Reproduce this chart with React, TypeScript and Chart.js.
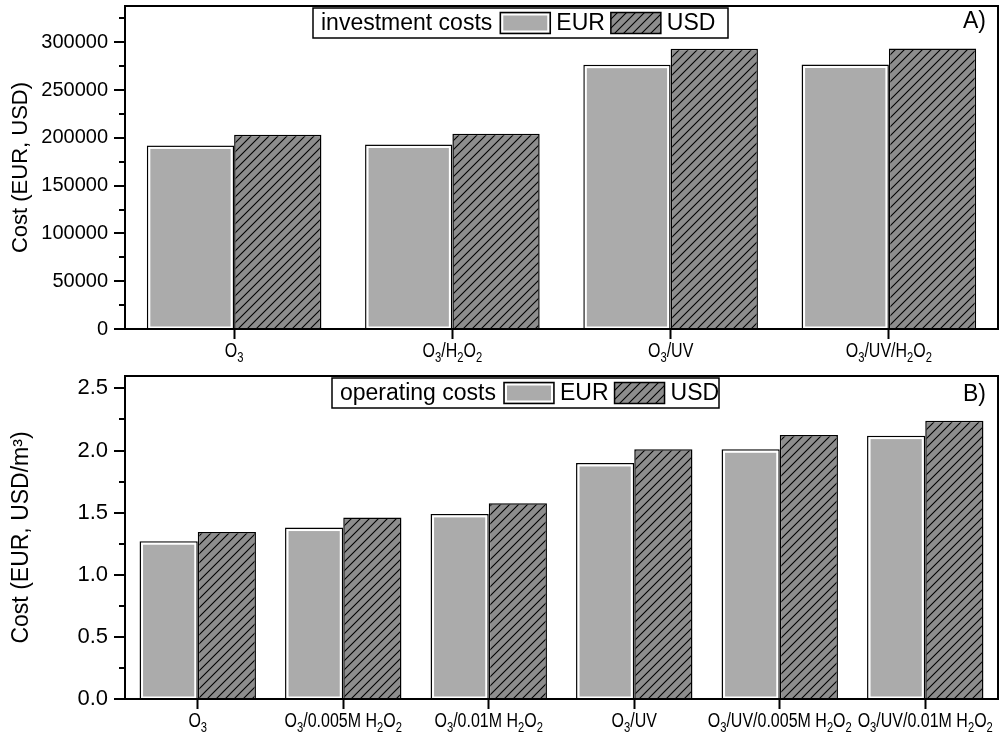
import React, { useEffect, useRef } from 'react';
import { Chart, registerables } from 'chart.js';

Chart.register(...registerables);

// ---------- data ----------
const investmentCategories = ['O₃', 'O₃/H₂O₂', 'O₃/UV', 'O₃/UV/H₂O₂'];
const investmentEUR = [192100, 193100, 276600, 276800];
const investmentUSD = [203300, 204400, 293300, 293400];
const investmentTicks = [
  0, 25000, 50000, 75000, 100000, 125000, 150000, 175000, 200000, 225000, 250000, 275000, 300000, 325000,
];

const operatingCategories = [
  'O₃',
  'O₃/0.005M H₂O₂',
  'O₃/0.01M H₂O₂',
  'O₃/UV',
  'O₃/UV/0.005M H₂O₂',
  'O₃/UV/0.01M H₂O₂',
];
const operatingEUR = [1.27, 1.38, 1.49, 1.9, 2.01, 2.12];
const operatingUSD = [1.345, 1.46, 1.575, 2.01, 2.125, 2.24];
const operatingTicks = [0, 0.25, 0.5, 0.75, 1.0, 1.25, 1.5, 1.75, 2.0, 2.25, 2.5];

const seriesLabels = ['EUR', 'USD'];
const legendTitles = ['investment costs', 'operating costs'];
const panelLabels = ['A)', 'B)'];
const yTitles = ['Cost (EUR, USD)', 'Cost (EUR, USD/m³)'];

// ---------- styles ----------
const FONT = '"Liberation Sans", Arial, sans-serif';
const EUR_FILL = '#ababab';
const USD_FILL = '#8d8d8d';
const SUBS = '₀₁₂₃₄₅₆₇₈₉';

function makeHatch(): CanvasPattern | string {
  const c = document.createElement('canvas');
  const s = 9;
  c.width = s;
  c.height = s;
  const g = c.getContext('2d');
  if (!g) return USD_FILL;
  g.fillStyle = USD_FILL;
  g.fillRect(0, 0, s, s);
  g.strokeStyle = '#000';
  g.lineWidth = 1.1;
  g.beginPath();
  g.moveTo(-1, s + 1);
  g.lineTo(s + 1, -1);
  g.moveTo(-2, 2);
  g.lineTo(2, -2);
  g.moveTo(s - 2, s + 2);
  g.lineTo(s + 2, s - 2);
  g.stroke();
  const p = g.createPattern(c, 'repeat');
  return p || USD_FILL;
}

// draws a label with real subscripts, horizontally condensed like a narrow face
function drawRich(
  ctx: CanvasRenderingContext2D,
  text: string,
  cx: number,
  baseline: number,
  size: number,
  subSize: number,
  drop: number,
  squeeze: number,
) {
  const segs: { t: string; sub: boolean }[] = [];
  for (const ch of Array.from(text)) {
    const k = SUBS.indexOf(ch);
    const sub = k >= 0;
    const t = sub ? String(k) : ch;
    const last = segs[segs.length - 1];
    if (last && last.sub === sub) last.t += t;
    else segs.push({ t, sub });
  }
  let total = 0;
  const widths = segs.map((s) => {
    ctx.font = `${s.sub ? subSize : size}px ${FONT}`;
    const w = ctx.measureText(s.t).width;
    total += w;
    return w;
  });
  ctx.save();
  ctx.translate(cx - (total * squeeze) / 2, baseline);
  ctx.scale(squeeze, 1);
  let x = 0;
  segs.forEach((s, i) => {
    ctx.font = `${s.sub ? subSize : size}px ${FONT}`;
    ctx.fillText(s.t, x, s.sub ? drop : 0);
    x += widths[i];
  });
  ctx.restore();
}

const decorPlugin = {
  id: 'decor',
  afterDraw(chart: any, _args: any, opts: any) {
    const ctx: CanvasRenderingContext2D = chart.ctx;
    const { left, top, right, bottom } = chart.chartArea;
    ctx.save();

    // white inner edge of EUR bars
    const meta = chart.getDatasetMeta(0);
    ctx.strokeStyle = '#ffffff';
    ctx.lineWidth = 2;
    meta.data.forEach((el: any) => {
      const p = el.getProps(['x', 'y', 'base', 'width'], true);
      const l = p.x - p.width / 2;
      const t = Math.min(p.y, p.base);
      const b = Math.max(p.y, p.base);
      ctx.strokeRect(l + 2.5, t + 2.5, p.width - 5, b - t - 4);
    });

    // frame
    ctx.strokeStyle = '#000';
    ctx.lineWidth = 2;
    ctx.strokeRect(left, top, right - left, bottom - top);

    // y ticks (major + minor)
    const ys = chart.scales.y;
    ys.ticks.forEach((t: any) => {
      const py = Math.round(ys.getPixelForValue(t.value));
      const r = t.value / opts.majorStep;
      const major = Math.abs(r - Math.round(r)) < 1e-6;
      ctx.beginPath();
      ctx.moveTo(left - (major ? 11 : 6), py);
      ctx.lineTo(left, py);
      ctx.stroke();
    });

    // x category labels with subscripts
    const xs = chart.scales.x;
    ctx.fillStyle = '#000';
    ctx.textAlign = 'left';
    ctx.textBaseline = 'alphabetic';
    (chart.data.labels as string[]).forEach((lab, i) => {
      const px = xs.getPixelForTick(i);
      drawRich(ctx, lab, px, bottom + opts.labelBaseline, 20, 14, 5, 0.8);
    });

    // legend
    const lb = opts.legendBox;
    ctx.fillStyle = '#fff';
    ctx.fillRect(lb.x, lb.y, lb.w, lb.h);
    ctx.strokeStyle = '#000';
    ctx.lineWidth = 1.5;
    ctx.strokeRect(lb.x, lb.y, lb.w, lb.h);
    ctx.font = `23px ${FONT}`;
    ctx.fillStyle = '#000';
    ctx.textBaseline = 'middle';
    ctx.textAlign = 'left';
    const cy = lb.y + lb.h / 2 + 1;
    let x = lb.x + 8;
    ctx.fillText(opts.legendTitle, x, cy);
    x += ctx.measureText(opts.legendTitle).width + 8;
    chart.data.datasets.forEach((ds: any, i: number) => {
      const sw = 50;
      const sh = 21;
      const sy = lb.y + (lb.h - sh) / 2;
      ctx.fillStyle = ds.backgroundColor;
      ctx.fillRect(x, sy, sw, sh);
      if (i === 0) {
        ctx.strokeStyle = '#fff';
        ctx.lineWidth = 2;
        ctx.strokeRect(x + 2, sy + 2, sw - 4, sh - 4);
      }
      ctx.strokeStyle = '#000';
      ctx.lineWidth = 1.5;
      ctx.strokeRect(x, sy, sw, sh);
      x += sw + 6;
      ctx.fillStyle = '#000';
      ctx.fillText(ds.label, x, cy);
      x += ctx.measureText(ds.label).width + 6;
    });

    // panel label
    ctx.font = `23px ${FONT}`;
    ctx.textAlign = 'right';
    ctx.fillText(opts.panelLabel, opts.panelPos.x, opts.panelPos.y);
    ctx.restore();
  },
};

function buildConfig(
  labels: string[],
  eur: number[],
  usd: number[],
  yMax: number,
  tickValues: number[],
  majorStep: number,
  decimals: number,
  yTitle: string,
  titleSize: number,
  tickSize: number,
  padTop: number,
  xHeight: number,
  decor: any,
): any {
  return {
    type: 'bar',
    data: {
      labels,
      datasets: [
        {
          label: seriesLabels[0],
          data: eur,
          backgroundColor: EUR_FILL,
          borderColor: '#000',
          borderWidth: 1.5,
          categoryPercentage: 0.8,
          barPercentage: 1.0,
        },
        {
          label: seriesLabels[1],
          data: usd,
          backgroundColor: makeHatch(),
          borderColor: '#000',
          borderWidth: 1.5,
          categoryPercentage: 0.8,
          barPercentage: 1.0,
        },
      ],
    },
    options: {
      animation: false,
      responsive: true,
      maintainAspectRatio: false,
      layout: { padding: { top: padTop, right: 7, left: 0, bottom: 0 } },
      plugins: {
        legend: { display: false },
        tooltip: { enabled: false },
        decor: { ...decor, majorStep },
      },
      scales: {
        x: {
          offset: true,
          border: { display: false },
          grid: {
            display: true,
            offset: false,
            drawOnChartArea: false,
            drawTicks: true,
            tickLength: 10,
            tickColor: '#000',
            tickWidth: 2,
          },
          ticks: {
            display: false,
            autoSkip: false,
            maxRotation: 0,
          },
          afterFit: (s: any) => {
            s.height = xHeight;
            s.paddingLeft = 0;
            s.paddingRight = 0;
          },
        },
        y: {
          min: 0,
          max: yMax,
          border: { display: false },
          grid: { display: false, drawTicks: false },
          afterBuildTicks: (s: any) => {
            s.ticks = tickValues.map((v) => ({ value: v }));
          },
          ticks: {
            autoSkip: false,
            color: '#000',
            padding: 17,
            font: { family: FONT, size: tickSize },
            callback: (v: any) => {
              const n = Number(v);
              const r = n / majorStep;
              return Math.abs(r - Math.round(r)) < 1e-6 ? n.toFixed(decimals) : '';
            },
          },
          title: {
            display: true,
            text: yTitle,
            color: '#000',
            font: { family: FONT, size: titleSize },
            padding: { top: 8, bottom: 0 },
          },
          afterFit: (s: any) => {
            s.width = 125;
            s.paddingTop = 0;
            s.paddingBottom = 0;
          },
        },
      },
    },
    plugins: [decorPlugin],
  };
}

export default function App() {
  const topRef = useRef<HTMLCanvasElement | null>(null);
  const botRef = useRef<HTMLCanvasElement | null>(null);

  useEffect(() => {
    Chart.defaults.font.family = FONT;
    Chart.defaults.color = '#000';
    const c1 = new Chart(
      topRef.current as HTMLCanvasElement,
      buildConfig(
        investmentCategories,
        investmentEUR,
        investmentUSD,
        338000,
        investmentTicks,
        50000,
        0,
        yTitles[0],
        22,
        20,
        6,
        37,
        {
          legendTitle: legendTitles[0],
          legendBox: { x: 313, y: 8, w: 415, h: 30 },
          panelLabel: panelLabels[0],
          panelPos: { x: 986, y: 22 },
          labelBaseline: 28,
        },
      ),
    );
    const c2 = new Chart(
      botRef.current as HTMLCanvasElement,
      buildConfig(
        operatingCategories,
        operatingEUR,
        operatingUSD,
        2.6,
        operatingTicks,
        0.5,
        1,
        yTitles[1],
        23,
        22,
        10,
        45,
        {
          legendTitle: legendTitles[1],
          legendBox: { x: 332, y: 12, w: 387, h: 30 },
          panelLabel: panelLabels[1],
          panelPos: { x: 986, y: 29 },
          labelBaseline: 28,
        },
      ),
    );
    return () => {
      c1.destroy();
      c2.destroy();
    };
  }, []);

  return (
    <div style={{ position: 'absolute', left: 0, top: 0, width: 1005, height: 744, background: '#fff' }}>
      <div style={{ position: 'absolute', left: 0, top: 0, width: 1005, height: 366 }}>
        <canvas ref={topRef} />
      </div>
      <div style={{ position: 'absolute', left: 0, top: 366, width: 1005, height: 378 }}>
        <canvas ref={botRef} />
      </div>
    </div>
  );
}
